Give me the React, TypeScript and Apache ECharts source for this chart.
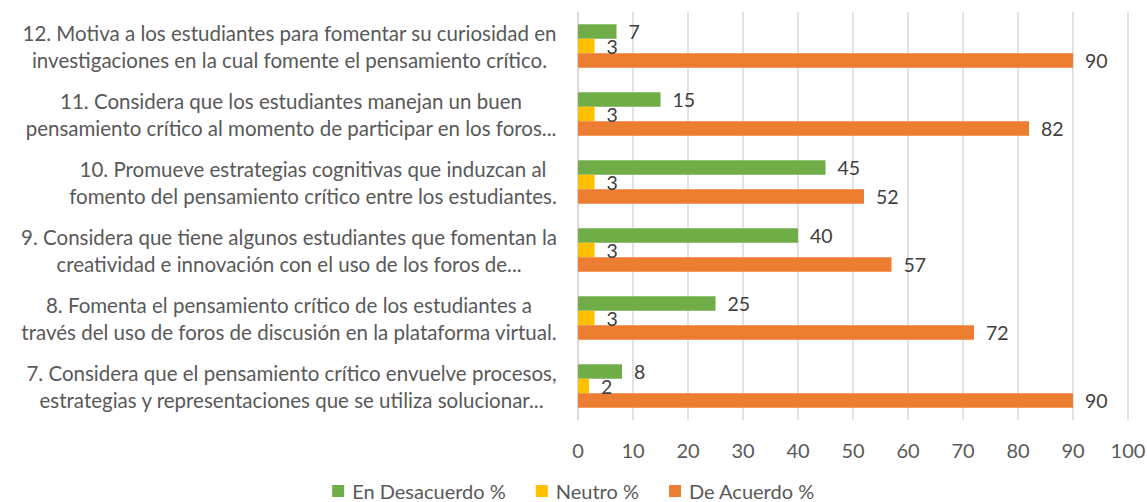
import React, { useEffect, useRef } from "react";
import * as echarts from "echarts";

const categories = [
  "7. Considera que el pensamiento crítico envuelve procesos,\nestrategias y representaciones que se utiliza solucionar...",
  "8. Fomenta el pensamiento crítico de los estudiantes a\ntravés del uso de foros de discusión en la plataforma virtual.",
  "9. Considera que tiene algunos estudiantes que fomentan la\ncreatividad e innovación con el uso de los foros de...",
  "10. Promueve estrategias cognitivas que induzcan al\nfomento del pensamiento crítico entre los estudiantes.",
  "11. Considera que los estudiantes manejan un buen\npensamiento crítico al momento de participar en los foros...",
  "12. Motiva a los estudiantes para fomentar su curiosidad en\ninvestigaciones en la cual fomente el pensamiento crítico.",
];
const seriesNames = ["En Desacuerdo %", "Neutro %", "De Acuerdo %"];
const desacuerdo = [8, 25, 40, 45, 15, 7];
const neutro = [2, 3, 3, 3, 3, 3];
const acuerdo = [90, 72, 57, 52, 82, 90];
const xTicks = { min: 0, max: 100, interval: 10 };

const FONT = "Lato";
const FS = 20.5;
const COLORS = ["#70AD47", "#FFC000", "#ED7D31"];

export default function App() {
  const ref = useRef<HTMLDivElement>(null);
  useEffect(() => {
    document.body.style.margin = "0";
    const chart = echarts.init(ref.current!, null, { renderer: "svg" });
    const canvas = document.createElement("canvas");
    const ctx = canvas.getContext("2d")!;
    ctx.font = `${FS}px ${FONT}`;
    const gridLeft = 578;
    const rich: Record<string, any> = {};
    categories.forEach((c, i) => {
      const w = Math.max(...c.split("\n").map((l) => Math.ceil(ctx.measureText(l).width) + 2));
      rich["c" + i] = {
        width: w,
        align: "center",
        fontFamily: FONT,
        fontSize: FS,
        color: "#595959",
        lineHeight: 27,
      };
    });
    const label = {
      show: true,
      position: "right",
      distance: 12,
      color: "#404040",
      fontFamily: FONT,
      fontSize: FS - 1,
    };
    const datasets = [desacuerdo, neutro, acuerdo];
    chart.setOption({
      animation: false,
      grid: {
        left: gridLeft,
        right: 19,
        top: 12,
        bottom: 82,
        containLabel: false,
        outerBoundsMode: "none",
      },
      legend: {
        bottom: 0,
        left: "center",
        padding: [0, 5, 1, 5],
        icon: "rect",
        itemWidth: 12,
        itemHeight: 12,
        itemGap: 30,
        textStyle: { color: "#595959", fontFamily: FONT, fontSize: 20, padding: [0, 0, 0, 3] },
        data: seriesNames,
      },
      xAxis: {
        type: "value",
        ...xTicks,
        axisLine: { show: false },
        axisTick: { show: false },
        splitLine: { show: true, lineStyle: { color: "#D9D9D9", width: 1.5 } },
        axisLabel: { color: "#595959", fontFamily: FONT, fontSize: FS - 0.5, margin: 20 },
      },
      yAxis: {
        type: "category",
        data: categories,
        axisLine: { show: true, lineStyle: { color: "#D9D9D9", width: 1.5 } },
        axisTick: { show: false },
        axisLabel: {
          color: "#595959",
          fontFamily: FONT,
          fontSize: FS,
          lineHeight: 27,
          margin: 20,
          interval: 0,
          formatter: (v: string, idx: number) =>
            v
              .split("\n")
              .map((l) => `{c${idx}|${l}}`)
              .join("\n"),
          rich,
        },
      },
      series: seriesNames.map((name, i) => ({
        name,
        type: "bar",
        data: datasets[i],
        itemStyle: { color: COLORS[i] },
        barGap: "0%",
        barCategoryGap: "36%",
        label,
      })),
    });
    return () => chart.dispose();
  }, []);
  return <div ref={ref} style={{ width: 1147, height: 502 }} />;
}
